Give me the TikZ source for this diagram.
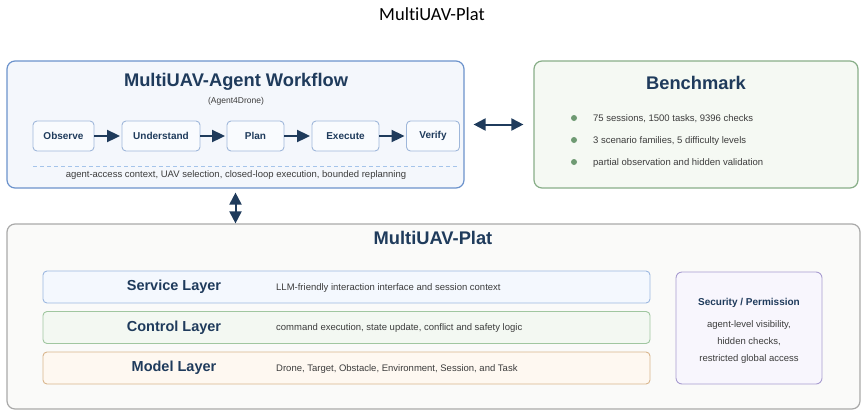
\documentclass[tikz,border=0pt]{standalone}
\usepackage{fontspec}
\setmainfont{Liberation Sans}
\newfontfamily\capfont[Ligatures=NoCommon]{Carlito}
\usetikzlibrary{arrows.meta}
\definecolor{navy}{HTML}{1F3B5C}
\definecolor{txtgray}{HTML}{3C3C3C}
\definecolor{wffill}{HTML}{F4F7FC}
\definecolor{wfline}{HTML}{6C93CC}
\definecolor{stepfill}{HTML}{F9FBFE}
\definecolor{stepline}{HTML}{9FB7DA}
\definecolor{dashblue}{HTML}{A5C4EA}
\definecolor{bmfill}{HTML}{F5F9F3}
\definecolor{bmline}{HTML}{88AE88}
\definecolor{dotgreen}{HTML}{6E9A72}
\definecolor{platfill}{HTML}{FAFAF9}
\definecolor{platline}{HTML}{A9A9A9}
\definecolor{svfill}{HTML}{F4F8FE}
\definecolor{svline}{HTML}{9CB8E0}
\definecolor{ctfill}{HTML}{F3F8F2}
\definecolor{ctline}{HTML}{A0C6A0}
\definecolor{mdfill}{HTML}{FEF8F1}
\definecolor{mdline}{HTML}{D9B68D}
\definecolor{secfill}{HTML}{F8F6FD}
\definecolor{secline}{HTML}{A89CD0}

\begin{document}
\begin{tikzpicture}[x=1pt,y=-1pt,
    panel/.style={draw,rounded corners=8,line width=1.2,inner sep=0},
    stepbox/.style={draw=stepline,fill=stepfill,rounded corners=4,line width=0.9,inner sep=0,minimum height=30,font=\fontsize{10}{12}\selectfont\bfseries,text=navy},
    layerbox/.style={draw,rounded corners=4,line width=0.9,inner sep=0,minimum width=607,minimum height=32},
    bigtitle/.style={font=\fontsize{18.3}{21}\selectfont\bfseries,text=navy},
    layername/.style={font=\fontsize{14.5}{17}\selectfont\bfseries,text=navy},
    note/.style={font=\fontsize{9.5}{11}\selectfont,text=txtgray,inner sep=0},
    flow/.style={-{Triangle[length=13pt,width=12pt]},line width=2,draw=navy},
    biflow/.style={{Triangle[length=12pt,width=12pt]}-{Triangle[length=12pt,width=12pt]},line width=2,draw=navy}]
    \useasboundingbox (0,0) rectangle (867,416);
    \node[font=\fontsize{18.5}{21}\selectfont\capfont] (top) at (432,14) {MultiUAV-Plat};
    % workflow panel
    \node[panel,draw=wfline,fill=wffill,minimum width=457,minimum height=127] (wf) at (235.5,124.5) {};
    \node[bigtitle] (wftitle) at (236,82) {MultiUAV-Agent Workflow};
    \node[font=\fontsize{8.5}{10}\selectfont,text=txtgray] (wfsub) at (236,101) {(Agent4Drone)};
    \node[stepbox,minimum width=61] (obs) at (63.5,136) {Observe};
    \node[stepbox,minimum width=78] (und) at (161,136) {Understand};
    \node[stepbox,minimum width=57] (pln) at (255.5,136) {Plan};
    \node[stepbox,minimum width=67] (exe) at (345.5,136) {Execute};
    \node[stepbox,minimum width=53] (ver) at (433,136) {Verify};
    \foreach \a/\b in {obs/und,und/pln,pln/exe,exe/ver}
        \draw[flow,shorten >=1.5] (\a) -- (\b);
    \draw[dashblue,dashed,line width=0.8,dash pattern=on 4 off 3] (33,166) -- (458,166);
    \node[note] (wfnote) at (236,175) {agent-access context, UAV selection, closed-loop execution, bounded replanning};
    % benchmark panel
    \node[panel,draw=bmline,fill=bmfill,minimum width=324,minimum height=127] (bm) at (696,124.5) {};
    \node[bigtitle] (bmtitle) at (696,83) {Benchmark};
    \foreach \y/\t in {118/{75 sessions, 1500 tasks, 9396 checks},140/{3 scenario families, 5 difficulty levels},162/{partial observation and hidden validation}}{
        \fill[dotgreen] (574,\y) circle (3);
        \node[note,anchor=base west] at (593,\y+3.4) {\t};
    }
    % platform panel
    \node[panel,draw=platline,fill=platfill,minimum width=853,minimum height=185] (plat) at (433.5,316.5) {};
    \node[bigtitle] (plattitle) at (433,238) {MultiUAV-Plat};
    \node[layerbox,draw=svline,fill=svfill] (svc) at (346.5,287) {};
    \node[layerbox,draw=ctline,fill=ctfill] (ctl) at (346.5,327.5) {};
    \node[layerbox,draw=mdline,fill=mdfill] (mdl) at (346.5,368) {};
    \node[layername] (svcname) at (174,287) {Service Layer};
    \node[layername] (ctlname) at (174,327.5) {Control Layer};
    \node[layername] (mdlname) at (174,368) {Model Layer};
    \node[note,anchor=base west] (svctxt) at (276,290.4) {LLM-friendly interaction interface and session context};
    \node[note,anchor=base west] (ctltxt) at (276,330.9) {command execution, state update, conflict and safety logic};
    \node[note,anchor=base west] (mdltxt) at (276,371.4) {Drone, Target, Obstacle, Environment, Session, and Task};
    \node[draw=secline,fill=secfill,rounded corners=6,line width=0.9,minimum width=146,minimum height=112] (sec) at (749,328) {};
    \node[font=\fontsize{10}{12}\selectfont\bfseries,text=navy] (sectitle) at (749,303) {Security / Permission};
    \node[note,align=center,font=\fontsize{9.5}{17}\selectfont] (sectxt) at (749,342) {agent-level visibility,\\hidden checks,\\restricted global access};
    % links
    \draw[biflow,shorten <=9,shorten >=10] (wf) -- (bm);
    \draw[biflow,shorten <=4] (wf.south) -- (wf.south |- plat.north);
\end{tikzpicture}
\end{document}
